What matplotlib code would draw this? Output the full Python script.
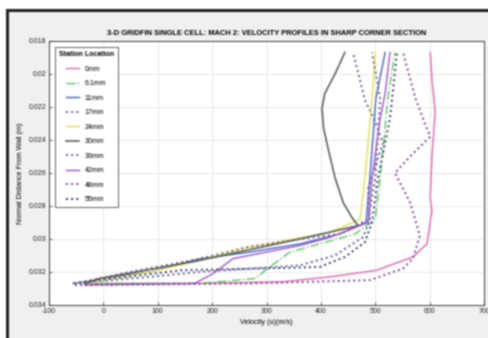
import numpy as np
import matplotlib.pyplot as plt
from matplotlib.patches import Rectangle

plt.rcParams['font.family'] = ['Liberation Sans', 'DejaVu Sans']

# station labels shown in the legend
stations = ['0mm', '6.1mm', '11mm', '17mm', '24mm', '30mm', '36mm', '42mm', '48mm', '55mm']

# velocity (m/s) and normal distance (m) for every station
u_0mm = [-34, 178, 330, 417, 503, 527, 569, 595, 604, 601, 604, 610, 604, 601]
d_0mm = [.0327, .0327, .0326, .0323, .0319, .0316, .0311, .0303, .0283, .0275, .0251, .0223, .0203, .0187]

u_6mm = [-34, 178, 279, 306, 343, 398, 463, 500, 509, 523, 536]
d_6mm = [.0327, .0327, .0324, .0317, .0308, .0303, .0297, .0288, .0263, .0215, .0187]

u_11mm = [-34, -6, 86, 178, 270, 362, 435, 483, 490, 501, 518]
d_11mm = [.0327, .0324, .0320, .0312, .0308, .0303, .0297, .0290, .0263, .0215, .0187]

u_17mm = [-52, 86, 178, 362, 426, 477, 490, 487, 514, 500, 481, 459]
d_17mm = [.0327, .0323, .0320, .0316, .0310, .0299, .0289, .0269, .0242, .0229, .0216, .0187]

u_24mm = [-34, 86, 165, 270, 417, 472, 481, 494, 500]
d_24mm = [.0327, .0320, .0314, .0305, .0296, .0288, .0263, .0215, .0187]

u_30mm = [-34, -6, 178, 362, 468, 457, 441, 426, 413, 405, 402, 407, 426, 444]
d_30mm = [.0327, .0324, .0313, .0300, .0292, .0287, .0278, .0263, .0245, .0233, .0221, .0212, .0200, .0187]

u_36mm = [-52, 49, 178, 264, 386, 435, 487, 500, 509, 494]
d_36mm = [.0327, .0320, .0312, .0305, .0299, .0297, .0288, .0263, .0215, .0187]

u_42mm = [-34, 168, 202, 238, 362, 417, 487, 494, 509, 518, 527]
d_42mm = [.0328, .0327, .0321, .0312, .0304, .0299, .0290, .0263, .0227, .0212, .0187]

u_48mm = [-52, 270, 490, 551, 569, 582, 564, 536, 564, 601, 591, 573, 551]
d_48mm = [.0328, .0327, .0325, .0318, .0312, .0298, .0278, .0260, .0250, .0238, .0230, .0214, .0187]

u_55mm = [-56, 143, 288, 398, 444, 481, 494, 505, 527, 540]
d_55mm = [.0327, .0319, .0318, .0317, .0311, .0302, .0290, .0263, .0227, .0187]

x_ticks = [-100, 0, 100, 200, 300, 400, 500, 600, 700]
y_ticks = [0.018, 0.02, 0.022, 0.024, 0.026, 0.028, 0.03, 0.032, 0.034]
y_tick_labels = ['0.018', '0.02', '0.022', '0.024', '0.026', '0.028', '0.03', '0.032', '0.034']

profiles = [(u_0mm, d_0mm), (u_6mm, d_6mm), (u_11mm, d_11mm), (u_17mm, d_17mm),
            (u_24mm, d_24mm), (u_30mm, d_30mm), (u_36mm, d_36mm), (u_42mm, d_42mm),
            (u_48mm, d_48mm), (u_55mm, d_55mm)]
styles = [('#e066a8', '-', 1.0), ('#5cc85c', '-.', 1.0), ('#4a62c8', '-', 1.0),
          ('#5a62a0', ':', 1.4), ('#e4e04a', '-', 1.0), ('#555555', '-', 1.1),
          ('#66668a', ':', 1.4), ('#a056c8', '-', 1.0), ('#7a4a9a', ':', 1.4),
          ('#3c3c70', ':', 1.4)]

fig = plt.figure(figsize=(4.89, 3.38), dpi=100)
fig.patch.set_facecolor('white')
# window frame around the figure
fig.add_artist(Rectangle((0.0143, -0.01), 1.0, 0.98, transform=fig.transFigure,
                         facecolor='#f0f0f0', edgecolor='#262626', lw=2.2, zorder=-10))

ax = fig.add_axes([0.100, 0.098, 0.890, 0.781])
for (u, d), (c, ls, lw), name in zip(profiles, styles, stations):
    ax.plot(u, d, color=c, ls=ls, lw=lw, label=name)

ax.set_xlim(-100, 700)
ax.set_ylim(0.034, 0.018)
ax.set_xticks(x_ticks)
ax.set_xticklabels([str(t) for t in x_ticks])
ax.set_yticks(y_ticks)
ax.set_yticklabels(y_tick_labels)
ax.tick_params(direction='in', length=2.5, width=0.5, labelsize=5, colors='#262626', pad=2)
ax.grid(True, color='#e2e2e2', lw=0.5)
for sp in ax.spines.values():
    sp.set_color('#262626')
    sp.set_linewidth(0.6)

ax.set_title('3-D GRIDFIN SINGLE CELL: MACH 2: VELOCITY PROFILES IN SHARP CORNER SECTION',
             fontsize=5.4, fontweight='bold', pad=4)
ax.set_xlabel('Velocity (u)(m/s)', fontsize=5.2, labelpad=3)
ax.set_ylabel('Normal Distance From Wall (m)', fontsize=5.2, labelpad=3)

leg = ax.legend(loc='upper left', bbox_to_anchor=(0.005, 0.99), fontsize=5,
                title='Station Location', title_fontsize=5, handlelength=1.8,
                labelspacing=1.08, borderpad=0.6, fancybox=False, framealpha=1)
leg.get_title().set_fontweight('bold')
leg.get_frame().set_edgecolor('#262626')
leg.get_frame().set_linewidth(0.5)

# soften the rendered image slightly, like a scaled screenshot
fig.canvas.draw()
img = np.asarray(fig.canvas.buffer_rgba())[:, :, :3].astype(float) / 255
k = np.array([0.25, 0.5, 0.25])
pad = np.pad(img, ((1, 1), (1, 1), (0, 0)), mode='edge')
img = k[0] * pad[:-2, 1:-1] + k[1] * pad[1:-1, 1:-1] + k[2] * pad[2:, 1:-1]
pad = np.pad(img, ((0, 0), (1, 1), (0, 0)), mode='edge')
img = k[0] * pad[:, :-2] + k[1] * pad[:, 1:-1] + k[2] * pad[:, 2:]
plt.imsave('out.png', np.clip(img, 0, 1))
